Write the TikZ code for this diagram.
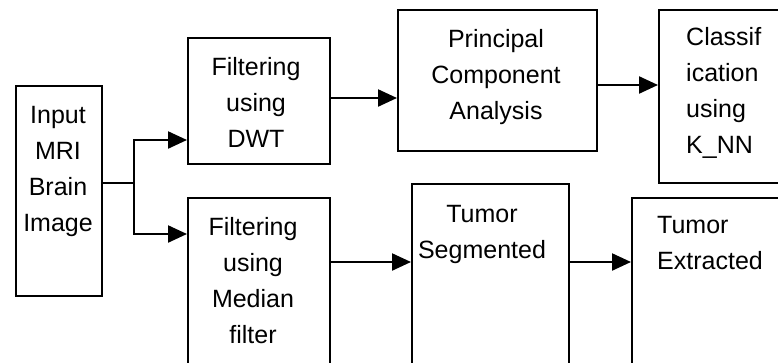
\documentclass[tikz,border=0pt]{standalone}
\usepackage{fontspec}
\setmainfont{Liberation Sans}
\usetikzlibrary{arrows.meta}
\begin{document}
\begin{tikzpicture}[x=1pt,y=-1pt,
  box/.style={draw,line width=1.7pt,rectangle,anchor=north west,inner sep=0pt},
  txt/.style={inner sep=0pt,font={\fontsize{25}{36}\selectfont}},
  arr/.style={line width=2.3pt,-{Triangle[length=19pt,width=17pt]}}]
\useasboundingbox (0,0) rectangle (778,362);
\clip (0,0) rectangle (778,362);
% boxes
\node[box,minimum width=86pt,minimum height=210pt] (in) at (15,85) {};
\node[box,minimum width=142pt,minimum height=126pt] (dwt) at (187,37) {};
\node[box,minimum width=142pt,minimum height=190pt] (med) at (187,197) {};
\node[box,minimum width=199pt,minimum height=141pt] (pca) at (397,9) {};
\node[box,minimum width=150pt,minimum height=173pt] (cls) at (658,9) {};
\node[box,minimum width=157pt,minimum height=200pt] (seg) at (411,183) {};
\node[box,minimum width=160pt,minimum height=190pt] (ext) at (631,197) {};
% texts
\node[txt,align=center,anchor=north] (tin) at (58,104) {\rule{0pt}{19pt}Input\\MRI\\Brain\\Image};
\node[txt,align=center,anchor=north] (tdwt) at (256,56) {\rule{0pt}{19pt}Filtering\\using\\DWT};
\node[txt,align=center,anchor=north] (tmed) at (253,216) {\rule{0pt}{19pt}Filtering\\using\\Median\\filter};
\node[txt,align=center,anchor=north] (tpca) at (496,28) {\rule{0pt}{19pt}Principal\\Component\\Analysis};
\node[txt,align=left,anchor=north west] (tcls) at (686,26) {\rule{0pt}{19pt}Classif\\ication\\using\\K\_NN};
\node[txt,align=center,anchor=north] (tseg) at (482,203) {\rule{0pt}{19pt}Tumor\\Segmented};
\node[txt,align=left,anchor=north west] (text) at (657,214) {\rule{0pt}{19pt}Tumor\\Extracted};
% connectors
\coordinate (br) at (134,183);
\draw[line width=1.7pt] (in.east |- br) -- (br);
\draw[arr] (br) |- (dwt.west |- 0,140);
\draw[arr] (br) |- (med.west |- 0,234);
\draw[arr] (dwt.east |- 0,98) -- (pca.west |- 0,98);
\draw[arr] (pca.east |- 0,85) -- (cls.west |- 0,85);
\draw[arr] (med.east |- 0,262) -- (seg.west |- 0,262);
\draw[arr] (seg.east |- 0,262) -- (ext.west |- 0,262);
\end{tikzpicture}
\end{document}
